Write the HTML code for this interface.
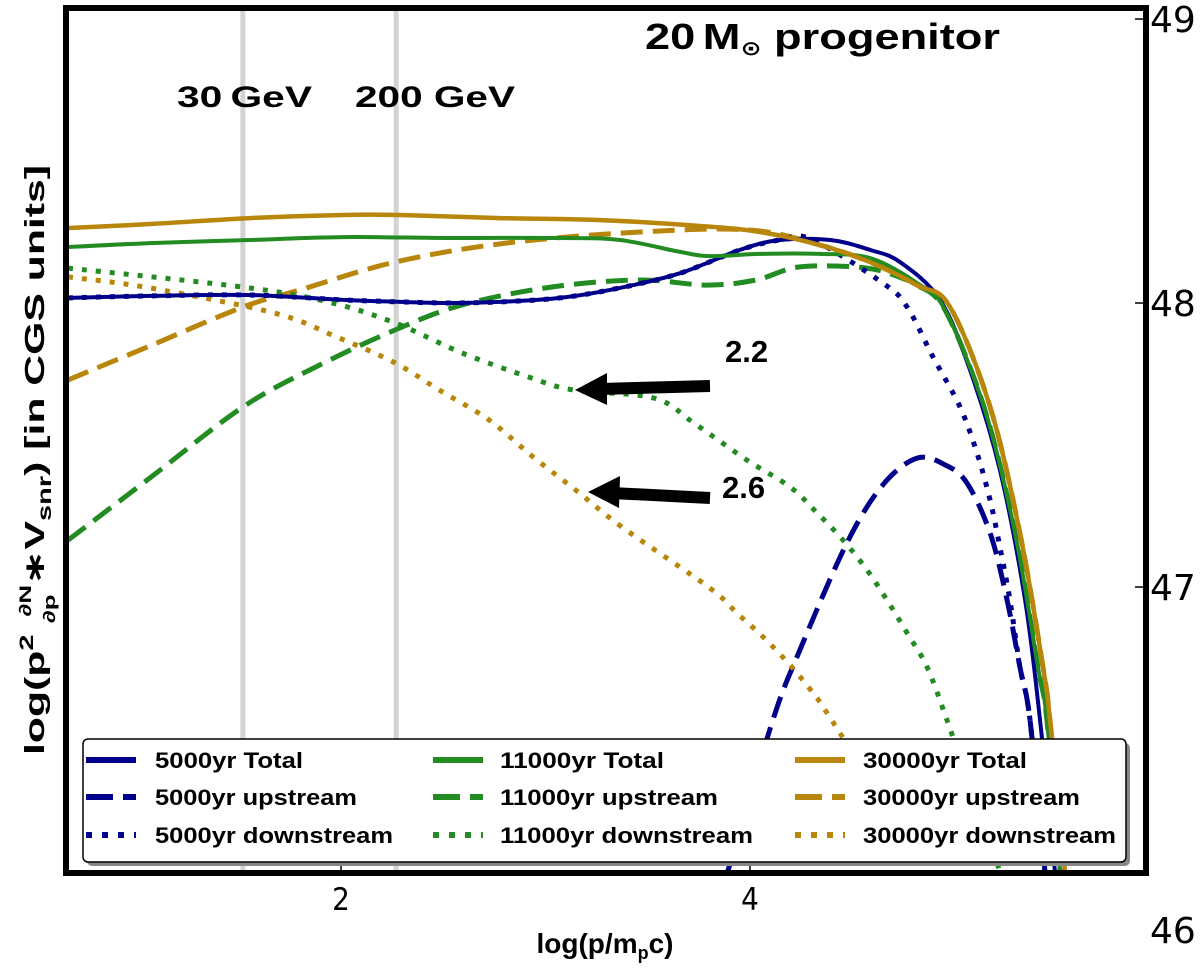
<!DOCTYPE html>
<html><head><meta charset="utf-8"><style>
html,body{margin:0;padding:0;background:#fff;}
svg{display:block;font-family:"Liberation Sans","DejaVu Sans",sans-serif;}
</style></head><body>
<svg id="chart" width="1200" height="972" viewBox="0 0 1200 972" xmlns="http://www.w3.org/2000/svg">
<rect x="0" y="0" width="1200" height="972" fill="#fff"/>
<g id="plot"></g>
<g id="overlay"></g>
</svg>
<script>
// ---- data (x = log(p/m_p c), y = log(p^2 dN/dp * V_snr)) ----
const xTicks = [2, 4];
const xTickLabels = ["2", "4"];
const yTicks = [49, 48, 47];
const yTickLabels = ["49", "48", "47"];
const yBottomLabel = "46";
const markerLines = [1.52, 2.27];
const markerLabels = ["30\u2009GeV", "200 GeV"];

const blueTotalX = [0.665,1.066,1.555,2.01,2.289,2.533,2.778,3.071,3.364,3.658,3.951,4.147,4.391,4.587,4.734,4.929,5.076,5.222,5.345,5.418,5.491];
const blueTotalY = [48.018,48.025,48.028,48.011,48.004,48.0,48.004,48.018,48.053,48.105,48.187,48.222,48.222,48.187,48.144,48.011,47.764,47.412,46.954,46.532,46.0];
const blueUpX = [3.892,4.112,4.244,4.474,4.65,4.817,4.954,5.061,5.174,5.257,5.320,5.369,5.442];
const blueUpY = [46.0,46.532,46.778,47.155,47.36,47.454,47.43,47.366,47.19,46.954,46.718,46.532,46.0];
const blueDownX = [0.665,1.066,1.555,2.01,2.289,2.533,2.778,3.071,3.364,3.658,3.951,4.147,4.30,4.650,4.768,4.895,5.027,5.110,5.174,5.222,5.271,5.320,5.369,5.44];
const blueDownY = [48.018,48.025,48.028,48.011,48.004,48.0,48.004,48.018,48.053,48.105,48.187,48.222,48.225,48.070,47.986,47.810,47.634,47.472,47.306,47.141,46.954,46.718,46.532,46.0];

const greenTotalX = [0.665,1.066,1.555,2.01,2.533,3.071,3.364,3.658,3.805,4.049,4.342,4.587,4.817,4.954,5.149,5.296,5.408,5.452,5.516];
const greenTotalY = [48.197,48.211,48.222,48.232,48.229,48.229,48.222,48.180,48.165,48.173,48.173,48.158,48.070,47.975,47.623,47.190,46.718,46.532,46.0];
const greenUpX = [0.665,1.066,1.521,1.897,2.264,2.592,3.027,3.462,3.790,4.029,4.244,4.572,4.768,4.817,4.954,5.149,5.296,5.408,5.452,5.516];
const greenUpY = [47.165,47.384,47.634,47.782,47.905,47.993,48.056,48.081,48.063,48.081,48.127,48.123,48.081,48.063,47.975,47.623,47.190,46.718,46.532,46.0];
const greenDownX = [0.665,1.521,1.936,2.264,2.592,2.919,3.134,3.531,3.726,3.985,4.196,4.328,4.455,4.572,4.670,4.768,4.866,4.963,5.100,5.222];
const greenDownY = [48.123,48.056,48.004,47.930,47.824,47.739,47.694,47.665,47.577,47.447,47.352,47.261,47.165,47.060,46.954,46.838,46.718,46.532,46.250,46.0];

const orangeTotalX = [0.665,1.066,1.555,2.01,2.289,2.778,3.267,3.756,4.049,4.342,4.587,4.817,4.978,5.174,5.320,5.433,5.467,5.540];
const orangeTotalY = [48.264,48.278,48.299,48.310,48.310,48.299,48.292,48.271,48.250,48.204,48.144,48.063,47.986,47.634,47.190,46.718,46.532,46.0];
const orangeUpX = [0.665,1.066,1.521,1.80,2.264,2.807,3.462,4.0,4.342,4.587,4.817,4.978,5.174,5.320,5.433,5.467,5.540];
const orangeUpY = [47.729,47.849,47.986,48.046,48.144,48.211,48.250,48.257,48.204,48.144,48.063,47.986,47.634,47.190,46.718,46.532,46.0];
const orangeDownX = [0.665,1.066,1.672,1.980,2.264,2.479,2.724,2.939,3.159,3.374,3.804,3.936,4.064,4.196,4.308,4.367,4.587];
const orangeDownY = [48.092,48.053,47.965,47.880,47.789,47.694,47.588,47.458,47.335,47.211,46.996,46.908,46.824,46.725,46.627,46.567,46.32];

const seriesNames = ["5000yr Total","11000yr Total","30000yr Total","5000yr upstream","11000yr upstream","30000yr upstream","5000yr downstream","11000yr downstream","30000yr downstream"];

// ---- axes ----
const PL = 69, PR = 1143, PT = 11, PB = 870;
function xs(v){ return 341 + (v - 2) * 204.5; }
function ys(v){ return 303 - (v - 48) * 284; }

const NS = "http://www.w3.org/2000/svg";
function mk(tag, attrs, parent){
  const e = document.createElementNS(NS, tag);
  for (const k in attrs) e.setAttribute(k, attrs[k]);
  parent.appendChild(e);
  return e;
}
const svg = document.getElementById('chart');
const plot = document.getElementById('plot');
const overlay = document.getElementById('overlay');

const defs = mk('defs', {}, svg);
const cp = mk('clipPath', {id:'clip'}, defs);
mk('rect', {x:PL, y:PT, width:PR-PL, height:PB-PT}, cp);
const clipG = mk('g', {'clip-path':'url(#clip)'}, plot);

markerLines.forEach((v, i) => {
  const l = mk('line', {x1:xs(v), x2:xs(v), y1:PT, y2:PB, stroke:'#d3d3d3', 'stroke-width':5}, clipG);
  
  
});

const BLUE = '#00008b', GREEN = '#228b22', ORANGE = '#b8860b';
const DASH = '22,10', DOT = '5,9';
const series = [
  {x:blueUpX, y:blueUpY, c:BLUE, d:DASH, w:5, n:'series-5000yr-upstream'},
  {x:greenUpX, y:greenUpY, c:GREEN, d:DASH, w:5, n:'series-11000yr-upstream'},
  {x:orangeUpX, y:orangeUpY, c:ORANGE, d:DASH, w:5, n:'series-30000yr-upstream'},
  {x:blueDownX, y:blueDownY, c:BLUE, d:DOT, w:5, n:'series-5000yr-downstream'},
  {x:greenDownX, y:greenDownY, c:GREEN, d:DOT, w:5, n:'series-11000yr-downstream'},
  {x:orangeDownX, y:orangeDownY, c:ORANGE, d:DOT, w:5, n:'series-30000yr-downstream'},
  {x:blueTotalX, y:blueTotalY, c:BLUE, d:'', w:4, n:'series-5000yr-total'},
  {x:greenTotalX, y:greenTotalY, c:GREEN, d:'', w:4, n:'series-11000yr-total'},
  {x:orangeTotalX, y:orangeTotalY, c:ORANGE, d:'', w:4.5, n:'series-30000yr-total'}
];
function smoothPath(px, py){
  let d = 'M' + px[0].toFixed(1) + ',' + py[0].toFixed(1);
  for (let i = 0; i < px.length - 1; i++){
    const x0 = px[Math.max(i-1,0)], y0 = py[Math.max(i-1,0)];
    const x1 = px[i], y1 = py[i], x2 = px[i+1], y2 = py[i+1];
    const x3 = px[Math.min(i+2,px.length-1)], y3 = py[Math.min(i+2,px.length-1)];
    const c1x = x1 + (x2 - x0)/6, c1y = y1 + (y2 - y0)/6;
    const c2x = x2 - (x3 - x1)/6, c2y = y2 - (y3 - y1)/6;
    d += ' C' + c1x.toFixed(1) + ',' + c1y.toFixed(1) + ' ' + c2x.toFixed(1) + ',' + c2y.toFixed(1) + ' ' + x2.toFixed(1) + ',' + y2.toFixed(1);
  }
  return d;
}
series.forEach(s => {
  const px = s.x.map(xs), py = s.y.map(ys);
  const p = mk('path', {d:smoothPath(px, py), fill:'none', stroke:s.c, 'stroke-width':s.w, 'stroke-dasharray':s.d || 'none'}, clipG);
  
  
});

xTicks.forEach((v, i) => {
  const t = mk('line', {x1:xs(v), x2:xs(v), y1:PB, y2:PB-8, stroke:'#000', 'stroke-width':1.5}, plot);
  
  
  const lb = mk('text', {x:xs(v), y:910, 'text-anchor':'middle', 'font-size':31, 'font-family':'"DejaVu Sans Condensed","DejaVu Sans",sans-serif'}, plot);
  lb.textContent = xTickLabels[i];
  
  
});
yTicks.forEach((v, i) => {
  const t = mk('line', {x1:PR, x2:PR-8, y1:ys(v), y2:ys(v), stroke:'#000', 'stroke-width':1.5}, plot);
  
  
  const lb = mk('text', {x:1150, y:ys(v)+13, 'font-size':36, 'font-family':'"DejaVu Sans","Liberation Sans",sans-serif'}, plot);
  lb.textContent = yTickLabels[i];
  
  
});
const yb = mk('text', {x:1150, y:943, 'font-size':36, 'font-family':'"DejaVu Sans","Liberation Sans",sans-serif'}, plot);
yb.textContent = yBottomLabel;



const mlPos = [[177,107,135],[355,107,160]];
markerLabels.forEach((t, i) => {
  const lb = mk('text', {x:mlPos[i][0], y:mlPos[i][1], 'font-size':30, 'font-weight':'bold', textLength:mlPos[i][2], lengthAdjust:'spacingAndGlyphs'}, overlay);
  lb.textContent = t;
  
  
});

const fr = mk('rect', {x:PL-3, y:PT-3, width:PR-PL+6, height:PB-PT+6, fill:'none', stroke:'#000', 'stroke-width':6}, plot);



// legend
const lg = mk('g', {}, overlay);


mk('rect', {x:87, y:743, width:1043, height:123, rx:5, fill:'#888'}, lg);
mk('rect', {x:83, y:739, width:1043, height:123, rx:5, fill:'#fff', stroke:'#000', 'stroke-width':1.5}, lg);
const colX = [86, 433, 795], txtX = [155, 500, 863];
const rowY = [760, 797, 835];
const legColors = [BLUE, GREEN, ORANGE];
const txtW = [[148,164,164],[202,218,217],[238,253,253]];
for (let r = 0; r < 3; r++){
  for (let c = 0; c < 3; c++){
    const dash = r === 0 ? 'none' : (r === 1 ? '27,10' : '6,10');
    const ln = mk('line', {x1:colX[c], x2:colX[c]+50, y1:rowY[r], y2:rowY[r], stroke:legColors[c], 'stroke-width':6, 'stroke-dasharray':dash}, lg);
    
    
    const name = seriesNames[r*3 + c];
    const tx = mk('text', {x:txtX[c], y:rowY[r]+8, 'font-size':22, 'font-weight':'bold', textLength:txtW[r][c], lengthAdjust:'spacingAndGlyphs'}, lg);
    tx.textContent = name;
    
    
  }
}
</script>
<svg style="position:absolute;left:0;top:0" width="1200" height="972" viewBox="0 0 1200 972" xmlns="http://www.w3.org/2000/svg" font-family="Liberation Sans, DejaVu Sans, sans-serif">
  <text x="645" y="49" font-size="36" font-weight="bold" textLength="355" lengthAdjust="spacingAndGlyphs">20<tspan dx="6">M</tspan><tspan font-size="20" dy="6">⊙</tspan><tspan dy="-6" dx="10">progenitor</tspan></text>
  <text x="725" y="362" font-size="31" font-weight="bold">2.2</text>
  <text x="722" y="498" font-size="31" font-weight="bold">2.6</text>
  <g>
    <line x1="710" y1="386" x2="600" y2="389" stroke="#000" stroke-width="12"/>
    <polygon points="575,390 607,373 607,405" fill="#000"/>
  </g>
  <g>
    <line x1="710" y1="498" x2="612" y2="493" stroke="#000" stroke-width="12"/>
    <polygon points="588,492 620,476 619,508" fill="#000"/>
  </g>
  <text x="605" y="953" text-anchor="middle" font-size="28" font-weight="bold">log(p/m<tspan font-size="18" dy="6">p</tspan><tspan dy="-6">c)</tspan></text>
  <g transform="translate(44,460) rotate(-90)">
    <text x="-295" y="0" font-size="28" font-weight="bold" textLength="590" lengthAdjust="spacingAndGlyphs">log(p<tspan font-size="19" dy="-11">2</tspan><tspan dy="11" dx="4"> </tspan><tspan font-size="17" dy="-13">∂N</tspan><tspan font-size="17" dx="-25" dy="24">∂p</tspan><tspan dy="-11" dx="6">∗V</tspan><tspan font-size="19" dy="7">snr</tspan><tspan dy="-7">) [in CGS units]</tspan></text>
  </g>
</svg>
</body></html>
